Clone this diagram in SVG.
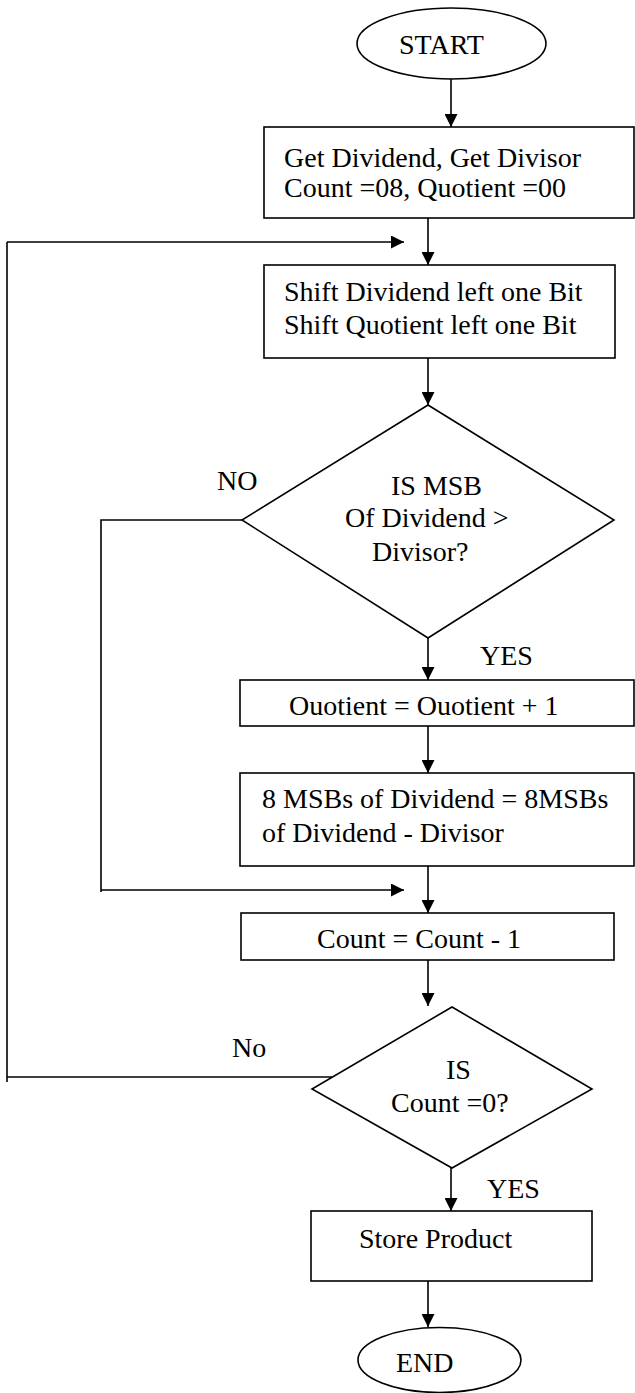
<svg xmlns="http://www.w3.org/2000/svg" width="635" height="1393" viewBox="0 0 635 1393" font-family="'Liberation Serif', 'Times New Roman', 'DejaVu Serif', serif">
  <style>
    .shape { fill: #ffffff; stroke: #000000; stroke-width: 1.6; }
    .line { fill: none; stroke: #000000; stroke-width: 1.6; }
    .arrow { fill: none; stroke: #000000; stroke-width: 1.6; marker-end: url(#ah); }
    text { font-family: 'Liberation Serif', 'Times New Roman', 'DejaVu Serif', serif; font-size: 28px; fill: #000000; }
  </style>
  <defs>
    <marker id="ah" viewBox="0 0 14 14" refX="14" refY="7" markerWidth="14" markerHeight="13" orient="auto" markerUnits="userSpaceOnUse">
      <path d="M0,0 L14,7 L0,14 z" fill="#000000"/>
    </marker>
  </defs>
  <rect width="635" height="1393" fill="#ffffff"/>

  <g id="connectors">
    <line class="arrow" x1="451" y1="79" x2="451" y2="127"/>
    <line class="arrow" x1="428" y1="218" x2="428" y2="265"/>
    <path class="line" d="M7,1082 L7,242"/>
    <path class="arrow" d="M7,242 L404,242"/>
    <line class="arrow" x1="428" y1="358" x2="428" y2="405"/>
    <path class="line" d="M242,520 L101,520 L101,892"/>
    <path class="arrow" d="M101,890 L404,890"/>
    <line class="arrow" x1="428" y1="638" x2="428" y2="680"/>
    <line class="arrow" x1="428" y1="726" x2="428" y2="773"/>
    <line class="arrow" x1="428" y1="866" x2="428" y2="913"/>
    <line class="arrow" x1="428" y1="960" x2="428" y2="1006"/>
    <line class="line" x1="332" y1="1077" x2="7" y2="1077"/>
    <line class="arrow" x1="451" y1="1168" x2="451" y2="1211"/>
    <line class="arrow" x1="428" y1="1281" x2="428" y2="1327"/>
  </g>

  <g id="start">
    <ellipse class="shape" cx="451.5" cy="43.5" rx="94.5" ry="35.5"/>
    <text x="399" y="54">START</text>
  </g>

  <g id="init">
    <rect class="shape" x="264" y="127" width="370" height="91"/>
    <text x="284" y="167">Get Dividend, Get Divisor</text>
    <text x="284" y="197">Count =08, Quotient =00</text>
  </g>

  <g id="shift">
    <rect class="shape" x="264" y="265" width="351" height="93"/>
    <text x="284" y="301">Shift Dividend left one Bit</text>
    <text x="284" y="334">Shift Quotient left one Bit</text>
  </g>

  <g id="decision1">
    <polygon class="shape" points="428,405 614,520 428,638 242,520"/>
    <text x="391" y="495">IS MSB</text>
    <text x="345" y="527">Of Dividend &gt;</text>
    <text x="372" y="561">Divisor?</text>
  </g>
  <text id="label-no1" x="217" y="490">NO</text>
  <text id="label-yes1" x="480" y="665">YES</text>

  <g id="increment">
    <rect class="shape" x="240" y="680" width="394" height="46"/>
    <text x="289" y="715">Ouotient = Ouotient + 1</text>
  </g>

  <g id="subtract">
    <rect class="shape" x="240" y="773" width="394" height="93"/>
    <text x="262" y="808">8 MSBs of Dividend = 8MSBs</text>
    <text x="262" y="842">of Dividend - Divisor</text>
  </g>

  <g id="decrement">
    <rect class="shape" x="241" y="913" width="373" height="47"/>
    <text x="317" y="948">Count = Count - 1</text>
  </g>

  <g id="decision2">
    <polygon class="shape" points="452,1007 592,1089 452,1168 312,1089"/>
    <text x="446" y="1079">IS</text>
    <text x="391" y="1112">Count =0?</text>
  </g>
  <text id="label-no2" x="232" y="1057">No</text>
  <text id="label-yes2" x="487" y="1198">YES</text>

  <g id="store">
    <rect class="shape" x="311" y="1211" width="281" height="70"/>
    <text x="359" y="1248">Store Product</text>
  </g>

  <g id="end">
    <ellipse class="shape" cx="439.5" cy="1360" rx="81.5" ry="32.5"/>
    <text x="396" y="1372">END</text>
  </g>
</svg>
